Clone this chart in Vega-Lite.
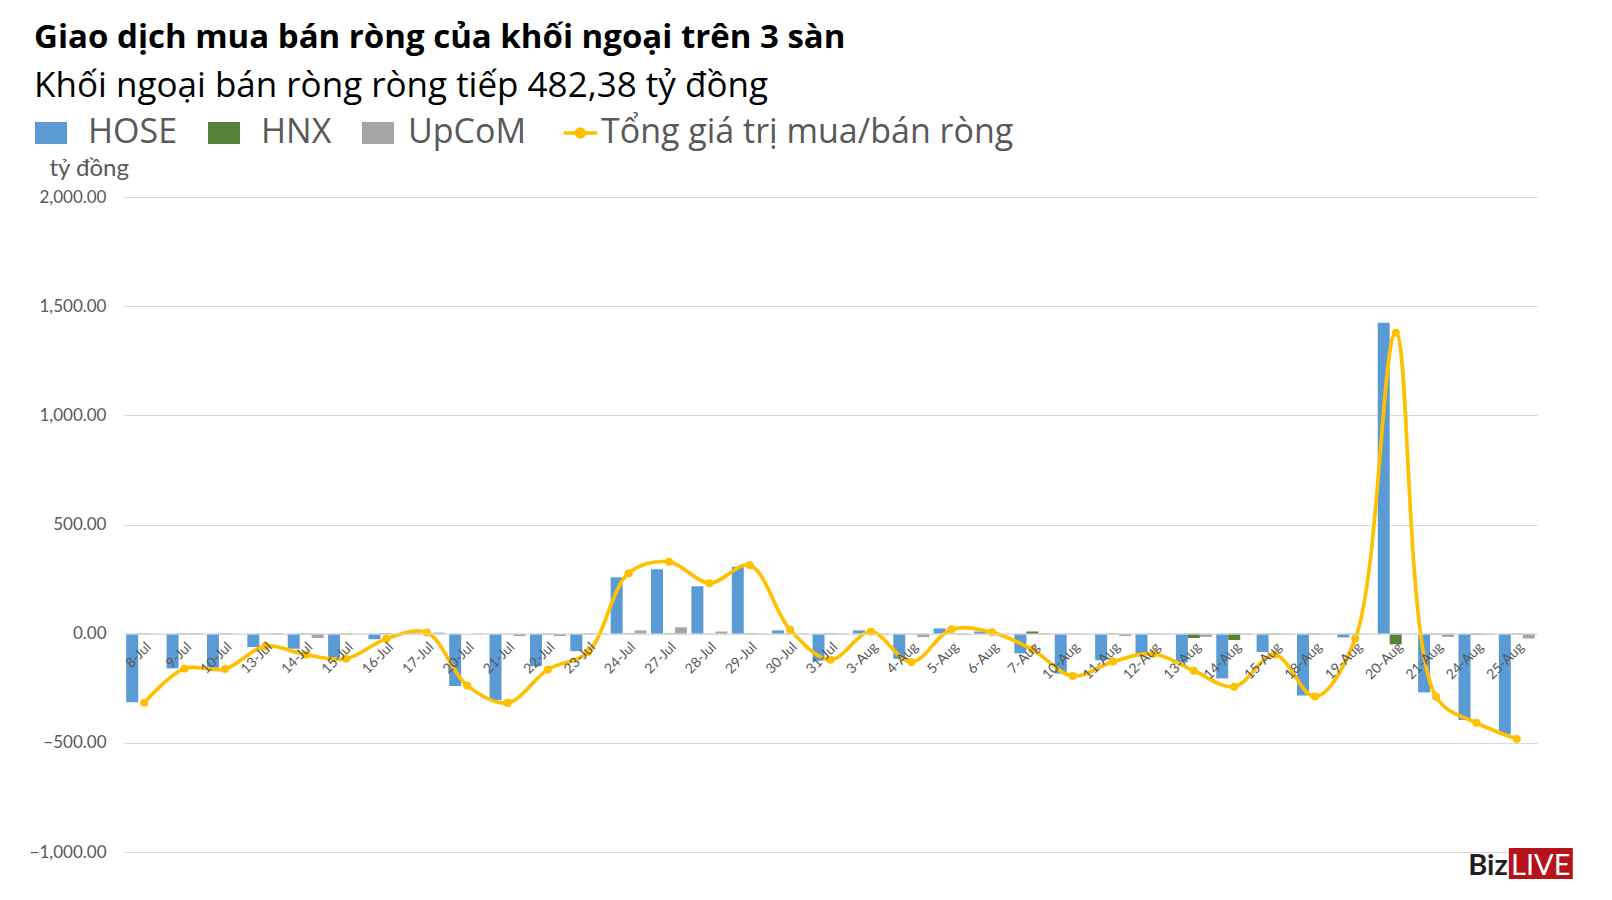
{
  "$schema": "https://vega.github.io/schema/vega-lite/v6.json",
  "width": 1413,
  "height": 655,
  "autosize": "none",
  "padding": {"left": 124, "top": 197, "right": 75, "bottom": 48},
  "background": "white",
  "config": {"view": {"stroke": null}, "font": "Lato"},
  "title": {
    "text": "Giao dịch mua bán ròng của khối ngoại trên 3 sàn",
    "subtitle": "Khối ngoại bán ròng ròng tiếp 482,38 tỷ đồng",
    "anchor": "start",
    "frame": "bounds",
    "font": "Open Sans",
    "fontSize": 33,
    "fontWeight": "bold",
    "color": "#000000",
    "subtitleFont": "Open Sans",
    "subtitleFontSize": 35,
    "subtitleColor": "#000000",
    "subtitlePadding": 14,
    "offset": 12,
    "dx": 5
  },
  "data": {
    "values": [
      {"d": "8-Jul", "s": "HOSE", "v": -314}, {"d": "8-Jul", "s": "HNX", "v": -2}, {"d": "8-Jul", "s": "UpCoM", "v": 1}, {"d": "8-Jul", "s": "Tổng giá trị mua/bán ròng", "v": -316},
      {"d": "9-Jul", "s": "HOSE", "v": -159}, {"d": "9-Jul", "s": "HNX", "v": -3}, {"d": "9-Jul", "s": "UpCoM", "v": 3}, {"d": "9-Jul", "s": "Tổng giá trị mua/bán ròng", "v": -160},
      {"d": "10-Jul", "s": "HOSE", "v": -156}, {"d": "10-Jul", "s": "HNX", "v": 2}, {"d": "10-Jul", "s": "UpCoM", "v": -1}, {"d": "10-Jul", "s": "Tổng giá trị mua/bán ròng", "v": -162},
      {"d": "13-Jul", "s": "HOSE", "v": -61}, {"d": "13-Jul", "s": "HNX", "v": 1}, {"d": "13-Jul", "s": "UpCoM", "v": 3}, {"d": "13-Jul", "s": "Tổng giá trị mua/bán ròng", "v": -57},
      {"d": "14-Jul", "s": "HOSE", "v": -69}, {"d": "14-Jul", "s": "HNX", "v": -3}, {"d": "14-Jul", "s": "UpCoM", "v": -20}, {"d": "14-Jul", "s": "Tổng giá trị mua/bán ròng", "v": -96},
      {"d": "15-Jul", "s": "HOSE", "v": -109}, {"d": "15-Jul", "s": "HNX", "v": -3}, {"d": "15-Jul", "s": "UpCoM", "v": -1}, {"d": "15-Jul", "s": "Tổng giá trị mua/bán ròng", "v": -115},
      {"d": "16-Jul", "s": "HOSE", "v": -25}, {"d": "16-Jul", "s": "HNX", "v": 2}, {"d": "16-Jul", "s": "UpCoM", "v": 0}, {"d": "16-Jul", "s": "Tổng giá trị mua/bán ròng", "v": -23},
      {"d": "17-Jul", "s": "HOSE", "v": 2}, {"d": "17-Jul", "s": "HNX", "v": 0}, {"d": "17-Jul", "s": "UpCoM", "v": 5}, {"d": "17-Jul", "s": "Tổng giá trị mua/bán ròng", "v": 5},
      {"d": "20-Jul", "s": "HOSE", "v": -240}, {"d": "20-Jul", "s": "HNX", "v": 0}, {"d": "20-Jul", "s": "UpCoM", "v": 2}, {"d": "20-Jul", "s": "Tổng giá trị mua/bán ròng", "v": -237},
      {"d": "21-Jul", "s": "HOSE", "v": -305}, {"d": "21-Jul", "s": "HNX", "v": -1}, {"d": "21-Jul", "s": "UpCoM", "v": -11}, {"d": "21-Jul", "s": "Tổng giá trị mua/bán ròng", "v": -317},
      {"d": "22-Jul", "s": "HOSE", "v": -149}, {"d": "22-Jul", "s": "HNX", "v": -3}, {"d": "22-Jul", "s": "UpCoM", "v": -11}, {"d": "22-Jul", "s": "Tổng giá trị mua/bán ròng", "v": -164},
      {"d": "23-Jul", "s": "HOSE", "v": -80}, {"d": "23-Jul", "s": "HNX", "v": -2}, {"d": "23-Jul", "s": "UpCoM", "v": -2}, {"d": "23-Jul", "s": "Tổng giá trị mua/bán ròng", "v": -84},
      {"d": "24-Jul", "s": "HOSE", "v": 258}, {"d": "24-Jul", "s": "HNX", "v": 2}, {"d": "24-Jul", "s": "UpCoM", "v": 15}, {"d": "24-Jul", "s": "Tổng giá trị mua/bán ròng", "v": 277},
      {"d": "27-Jul", "s": "HOSE", "v": 295}, {"d": "27-Jul", "s": "HNX", "v": 2}, {"d": "27-Jul", "s": "UpCoM", "v": 29}, {"d": "27-Jul", "s": "Tổng giá trị mua/bán ròng", "v": 329},
      {"d": "28-Jul", "s": "HOSE", "v": 217}, {"d": "28-Jul", "s": "HNX", "v": 1}, {"d": "28-Jul", "s": "UpCoM", "v": 10}, {"d": "28-Jul", "s": "Tổng giá trị mua/bán ròng", "v": 231},
      {"d": "29-Jul", "s": "HOSE", "v": 306}, {"d": "29-Jul", "s": "HNX", "v": 2}, {"d": "29-Jul", "s": "UpCoM", "v": 2}, {"d": "29-Jul", "s": "Tổng giá trị mua/bán ròng", "v": 313},
      {"d": "30-Jul", "s": "HOSE", "v": 15}, {"d": "30-Jul", "s": "HNX", "v": -2}, {"d": "30-Jul", "s": "UpCoM", "v": 2}, {"d": "30-Jul", "s": "Tổng giá trị mua/bán ròng", "v": 18},
      {"d": "31-Jul", "s": "HOSE", "v": -124}, {"d": "31-Jul", "s": "HNX", "v": 2}, {"d": "31-Jul", "s": "UpCoM", "v": 2}, {"d": "31-Jul", "s": "Tổng giá trị mua/bán ròng", "v": -119},
      {"d": "3-Aug", "s": "HOSE", "v": 15}, {"d": "3-Aug", "s": "HNX", "v": 0}, {"d": "3-Aug", "s": "UpCoM", "v": -5}, {"d": "3-Aug", "s": "Tổng giá trị mua/bán ròng", "v": 9},
      {"d": "4-Aug", "s": "HOSE", "v": -115}, {"d": "4-Aug", "s": "HNX", "v": 1}, {"d": "4-Aug", "s": "UpCoM", "v": -16}, {"d": "4-Aug", "s": "Tổng giá trị mua/bán ròng", "v": -130},
      {"d": "5-Aug", "s": "HOSE", "v": 24}, {"d": "5-Aug", "s": "HNX", "v": 1}, {"d": "5-Aug", "s": "UpCoM", "v": -6}, {"d": "5-Aug", "s": "Tổng giá trị mua/bán ròng", "v": 20},
      {"d": "6-Aug", "s": "HOSE", "v": 10}, {"d": "6-Aug", "s": "HNX", "v": 1}, {"d": "6-Aug", "s": "UpCoM", "v": -5}, {"d": "6-Aug", "s": "Tổng giá trị mua/bán ròng", "v": 6},
      {"d": "7-Aug", "s": "HOSE", "v": -90}, {"d": "7-Aug", "s": "HNX", "v": 10}, {"d": "7-Aug", "s": "UpCoM", "v": 3}, {"d": "7-Aug", "s": "Tổng giá trị mua/bán ròng", "v": -73},
      {"d": "10-Aug", "s": "HOSE", "v": -183}, {"d": "10-Aug", "s": "HNX", "v": -2}, {"d": "10-Aug", "s": "UpCoM", "v": -3}, {"d": "10-Aug", "s": "Tổng giá trị mua/bán ròng", "v": -194},
      {"d": "11-Aug", "s": "HOSE", "v": -122}, {"d": "11-Aug", "s": "HNX", "v": 2}, {"d": "11-Aug", "s": "UpCoM", "v": -11}, {"d": "11-Aug", "s": "Tổng giá trị mua/bán ròng", "v": -128},
      {"d": "12-Aug", "s": "HOSE", "v": -92}, {"d": "12-Aug", "s": "HNX", "v": -2}, {"d": "12-Aug", "s": "UpCoM", "v": 2}, {"d": "12-Aug", "s": "Tổng giá trị mua/bán ròng", "v": -92},
      {"d": "13-Aug", "s": "HOSE", "v": -132}, {"d": "13-Aug", "s": "HNX", "v": -20}, {"d": "13-Aug", "s": "UpCoM", "v": -15}, {"d": "13-Aug", "s": "Tổng giá trị mua/bán ròng", "v": -170},
      {"d": "14-Aug", "s": "HOSE", "v": -205}, {"d": "14-Aug", "s": "HNX", "v": -29}, {"d": "14-Aug", "s": "UpCoM", "v": -5}, {"d": "14-Aug", "s": "Tổng giá trị mua/bán ròng", "v": -243},
      {"d": "15-Aug", "s": "HOSE", "v": -84}, {"d": "15-Aug", "s": "HNX", "v": -4}, {"d": "15-Aug", "s": "UpCoM", "v": -4}, {"d": "15-Aug", "s": "Tổng giá trị mua/bán ròng", "v": -96},
      {"d": "18-Aug", "s": "HOSE", "v": -283}, {"d": "18-Aug", "s": "HNX", "v": -4}, {"d": "18-Aug", "s": "UpCoM", "v": 2}, {"d": "18-Aug", "s": "Tổng giá trị mua/bán ròng", "v": -288},
      {"d": "19-Aug", "s": "HOSE", "v": -17}, {"d": "19-Aug", "s": "HNX", "v": -2}, {"d": "19-Aug", "s": "UpCoM", "v": 1}, {"d": "19-Aug", "s": "Tổng giá trị mua/bán ròng", "v": -22},
      {"d": "20-Aug", "s": "HOSE", "v": 1424}, {"d": "20-Aug", "s": "HNX", "v": -49}, {"d": "20-Aug", "s": "UpCoM", "v": 1}, {"d": "20-Aug", "s": "Tổng giá trị mua/bán ròng", "v": 1378},
      {"d": "21-Aug", "s": "HOSE", "v": -269}, {"d": "21-Aug", "s": "HNX", "v": -3}, {"d": "21-Aug", "s": "UpCoM", "v": -15}, {"d": "21-Aug", "s": "Tổng giá trị mua/bán ròng", "v": -289},
      {"d": "24-Aug", "s": "HOSE", "v": -395}, {"d": "24-Aug", "s": "HNX", "v": -5}, {"d": "24-Aug", "s": "UpCoM", "v": -5}, {"d": "24-Aug", "s": "Tổng giá trị mua/bán ròng", "v": -408},
      {"d": "25-Aug", "s": "HOSE", "v": -459}, {"d": "25-Aug", "s": "HNX", "v": -2}, {"d": "25-Aug", "s": "UpCoM", "v": -22}, {"d": "25-Aug", "s": "Tổng giá trị mua/bán ròng", "v": -482.38}
    ]
  },
  "layer": [
    {
      "transform": [{"filter": "datum.s !== 'Tổng giá trị mua/bán ròng'"}],
      "mark": {"type": "bar"},
      "encoding": {
        "x": {
          "field": "d", "type": "nominal",
          "scale": {
            "domain": ["8-Jul","9-Jul","10-Jul","13-Jul","14-Jul","15-Jul","16-Jul","17-Jul","20-Jul","21-Jul","22-Jul","23-Jul","24-Jul","27-Jul","28-Jul","29-Jul","30-Jul","31-Jul","3-Aug","4-Aug","5-Aug","6-Aug","7-Aug","10-Aug","11-Aug","12-Aug","13-Aug","14-Aug","15-Aug","18-Aug","19-Aug","20-Aug","21-Aug","24-Aug","25-Aug"],
            "paddingInner": 0.11, "paddingOuter": 0.055
          },
          "axis": {
            "title": null, "orient": "bottom", "offset": -218.33, "labelAngle": -45,
            "labelFont": "Lato", "labelFontSize": 14, "labelColor": "#595959",
            "ticks": false, "tickSize": 0, "labelPadding": 6, "labelOverlap": false,
            "domainColor": "#D9D9D9", "domainWidth": 1, "grid": false, "zindex": 1
          }
        },
        "xOffset": {"field": "s", "type": "nominal", "scale": {"domain": ["HOSE", "HNX", "UpCoM"], "paddingInner": 0, "paddingOuter": 0}},
        "y": {
          "field": "v", "type": "quantitative",
          "scale": {"domain": [-1000, 2000], "nice": false, "zero": false},
          "axis": {
            "title": "tỷ đồng", "titleAngle": 0, "titleX": -75, "titleY": -22,
            "titleAlign": "left", "titleBaseline": "alphabetic", "titleFont": "Lato",
            "titleFontWeight": "normal", "titleFontSize": 24, "titleColor": "#595959",
            "values": [-1000, -500, 0, 500, 1000, 1500, 2000], "format": ",.2f",
            "labelFont": "Lato", "labelFontSize": 17, "labelColor": "#595959", "labelPadding": 18,
            "ticks": false, "tickSize": 0, "domain": false,
            "grid": true, "gridColor": "#D9D9D9", "gridWidth": 1.2
          }
        },
        "color": {
          "field": "s", "type": "nominal",
          "scale": {"domain": ["HOSE", "HNX", "UpCoM", "Tổng giá trị mua/bán ròng"], "range": ["#5B9BD5", "#538135", "#A5A5A5", "#FFC000"]},
          "legend": {
            "orient": "none", "legendX": -90, "legendY": -81, "direction": "horizontal",
            "title": null, "labelFont": "Open Sans", "labelFontSize": 34, "labelColor": "#595959",
            "labelLimit": 0,
            "symbolSize": 1024, "labelOffset": 20, "columnPadding": 29,
            "encode": {
              "symbols": {
                "update": {
                  "shape": {"signal": "datum.value === 'Tổng giá trị mua/bán ròng' ? 'M-2.28,0L-0.18,0M-1.48,0A0.25,0.25 0 1,1 -0.98,0A0.25,0.25 0 1,1 -1.48,0Z' : 'M-1,-0.69L1,-0.69L1,0.69L-1,0.69Z'"},
                  "fill": {"signal": "scale('color', datum.value)"},
                  "stroke": {"signal": "scale('color', datum.value)"},
                  "strokeWidth": {"signal": "datum.value === 'Tổng giá trị mua/bán ròng' ? 3.5 : 0"},
                  "opacity": {"value": 1},
                  "fillOpacity": {"value": 1}
                }
              },
              "labels": {
                "update": {
                  "dx": {"signal": "datum.value === 'Tổng giá trị mua/bán ròng' ? -36 : (datum.value === 'UpCoM' ? -7 : 0)"}
                }
              }
            }
          }
        }
      }
    },
    {
      "transform": [{"filter": "datum.s === 'Tổng giá trị mua/bán ròng'"}],
      "mark": {"type": "line", "interpolate": "catmull-rom", "strokeWidth": 3.7, "point": {"filled": true, "size": 65}},
      "encoding": {
        "x": {"field": "d", "type": "nominal"},
        "y": {"field": "v", "type": "quantitative"},
        "color": {"field": "s", "type": "nominal"}
      }
    },
    {
      "data": {"values": [{"logo": "BizLIVE"}]},
      "mark": {"type": "point", "shape": "M-0.25,-0.125H1.75V0.84H-0.25Z", "size": 4096, "filled": true, "color": "#B5121B", "opacity": 1},
      "encoding": {
        "x": {"datum": "25-Aug", "type": "nominal"},
        "y": {"datum": -1000, "type": "quantitative"}
      }
    },
    {
      "data": {"values": [{"logo": "BizLIVE"}]},
      "mark": {"type": "text", "text": "Biz", "font": "Lato", "fontWeight": "bold", "fontSize": 29, "color": "#231F20", "align": "right", "baseline": "alphabetic", "dx": -9, "dy": 23},
      "encoding": {
        "x": {"datum": "25-Aug", "type": "nominal"},
        "y": {"datum": -1000, "type": "quantitative"}
      }
    },
    {
      "data": {"values": [{"logo": "BizLIVE"}]},
      "mark": {"type": "text", "text": "LIVE", "font": "Lato", "fontWeight": "normal", "fontSize": 29, "color": "#FFFFFF", "align": "center", "baseline": "alphabetic", "dx": 24, "dy": 23},
      "encoding": {
        "x": {"datum": "25-Aug", "type": "nominal"},
        "y": {"datum": -1000, "type": "quantitative"}
      }
    }
  ]
}
